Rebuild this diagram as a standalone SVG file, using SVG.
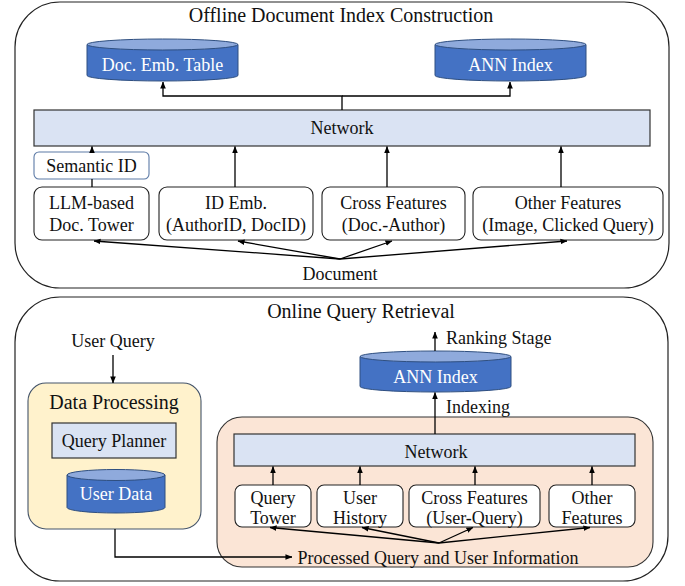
<svg xmlns="http://www.w3.org/2000/svg" width="685" height="586" viewBox="0 0 685 586">
<style>
text{font-family:"Liberation Serif","Times New Roman",serif;fill:#111;text-anchor:middle}
.t{font-size:20px}
.b{font-size:18px}
.w{fill:#fff;font-size:18px}
.cont{fill:#fff;stroke:#222;stroke-width:1.2}
.box{fill:#fff;stroke:#222;stroke-width:1.1}
.net{fill:#dae3f3;stroke:#333;stroke-width:1.2}
.cylb{fill:#4472c4;stroke:#2f4f80;stroke-width:1}
.cylt{fill:#8faadc;stroke:#2f4f80;stroke-width:1}
.ln{fill:none;stroke:#000;stroke-width:1.3}
</style>
<defs>
<marker id="a" viewBox="0 0 8 8" refX="7.5" refY="4" markerWidth="7" markerHeight="7" markerUnits="userSpaceOnUse" orient="auto">
<path d="M0,0.8 L8,4 L0,7.2 Z" fill="#000"/>
</marker>
</defs>

<g id="offline">
<rect class="cont" x="15" y="2" width="654" height="286" rx="45"/>
<text class="t" x="341" y="22">Offline Document Index Construction</text>
</g>
<g id="docemb">
<path class="cylb" d="M87,44.5 L87,75.5 A75.5,5.5 0 0 0 238,75.5 L238,44.5 Z"/>
<ellipse class="cylt" cx="162.5" cy="44.5" rx="75.5" ry="5.5"/>
<text class="w" x="162.5" y="71">Doc. Emb. Table</text>
</g>
<g id="annidx1">
<path class="cylb" d="M435,44.5 L435,75.5 A75.5,5.5 0 0 0 586,75.5 L586,44.5 Z"/>
<ellipse class="cylt" cx="510.5" cy="44.5" rx="75.5" ry="5.5"/>
<text class="w" x="510.5" y="71">ANN Index</text>
</g>
<g id="network1">
<rect class="net" x="34" y="110" width="616" height="36"/>
<text class="b" x="342" y="134">Network</text>
</g>
<g id="semid">
<rect x="34" y="152" width="115" height="27" rx="5" fill="#fff" stroke="#5c7aa6" stroke-width="1.1"/>
<text class="b" x="91.5" y="172">Semantic ID</text>
</g>
<g id="llm">
<rect class="box" x="34" y="187" width="115" height="53" rx="8"/>
<text class="b" x="91.5" y="209">LLM-based</text>
<text class="b" x="91.5" y="231">Doc. Tower</text>
</g>
<g id="idemb">
<rect class="box" x="159" y="187" width="154" height="53" rx="8"/>
<text class="b" x="236" y="209">ID Emb.</text>
<text class="b" x="236" y="231">(AuthorID, DocID)</text>
</g>
<g id="cross1">
<rect class="box" x="322" y="187" width="143" height="53" rx="8"/>
<text class="b" x="393.5" y="209">Cross Features</text>
<text class="b" x="393.5" y="231">(Doc.-Author)</text>
</g>
<g id="other1">
<rect class="box" x="473" y="187" width="190" height="53" rx="8"/>
<text class="b" x="568" y="209">Other Features</text>
<text class="b" x="568" y="231">(Image, Clicked Query)</text>
</g>
<g id="document">
<text class="b" x="340" y="280">Document</text>
</g>

<g id="online">
<rect class="cont" x="15" y="297" width="653" height="284" rx="45"/>
<text class="t" x="361" y="318">Online Query Retrieval</text>
</g>
<g id="userquery">
<text class="b" x="113" y="347">User Query</text>
</g>
<g id="dataproc">
<rect x="28" y="383" width="173" height="146" rx="18" fill="#fff2cc" stroke="#44546a" stroke-width="1.1"/>
<text class="t" x="114" y="409">Data Processing</text>
</g>
<g id="planner">
<rect class="net" x="52" y="423" width="124" height="35"/>
<text class="b" x="114" y="447">Query Planner</text>
</g>
<g id="userdata">
<path class="cylb" d="M67,475 L67,507.5 A49,5.5 0 0 0 165,507.5 L165,475 Z"/>
<ellipse class="cylt" cx="116" cy="475" rx="49" ry="5.5"/>
<text class="w" x="116" y="500">User Data</text>
</g>
<g id="encoder">
<rect x="217" y="417" width="436" height="150" rx="25" fill="#fbe5d6" stroke="#333" stroke-width="1.1"/>
</g>
<g id="network2">
<rect class="net" x="234" y="434" width="401" height="32"/>
<text class="b" x="436" y="458">Network</text>
</g>
<g id="qtower">
<rect class="box" x="235" y="485" width="76" height="42" rx="7"/>
<text class="b" x="273" y="504">Query</text>
<text class="b" x="273" y="524">Tower</text>
</g>
<g id="uhist">
<rect class="box" x="317" y="485" width="86" height="42" rx="7"/>
<text class="b" x="360" y="504">User</text>
<text class="b" x="360" y="524">History</text>
</g>
<g id="cross2">
<rect class="box" x="409" y="485" width="131" height="42" rx="7"/>
<text class="b" x="474.5" y="504">Cross Features</text>
<text class="b" x="474.5" y="524">(User-Query)</text>
</g>
<g id="other2">
<rect class="box" x="549" y="485" width="86" height="42" rx="7"/>
<text class="b" x="592" y="504">Other</text>
<text class="b" x="592" y="524">Features</text>
</g>
<g id="processed">
<text class="b" x="438" y="564">Processed Query and User Information</text>
</g>
<g id="annidx2">
<path class="cylb" d="M360,356.5 L360,386.5 A75.5,5.5 0 0 0 511,386.5 L511,356.5 Z"/>
<ellipse class="cylt" cx="435.5" cy="356.5" rx="75.5" ry="5.5"/>
<text class="w" x="435.5" y="383">ANN Index</text>
</g>
<g id="labels">
<text class="b" x="446" y="344" style="text-anchor:start">Ranking Stage</text>
<text class="b" x="446" y="413" style="text-anchor:start">Indexing</text>
</g>

<g id="connectors">
<path class="ln" d="M342,110 V96 H163 V82" marker-end="url(#a)"/>
<path class="ln" d="M342,96 H510 V82" marker-end="url(#a)"/>
<path class="ln" d="M92,152 V146.5" marker-end="url(#a)"/>
<path class="ln" d="M92,187 V179"/>
<path class="ln" d="M235,187 V146.5" marker-end="url(#a)"/>
<path class="ln" d="M387,187 V146.5" marker-end="url(#a)"/>
<path class="ln" d="M561,187 V146.5" marker-end="url(#a)"/>
<path class="ln" d="M340,259 L94,241" marker-end="url(#a)"/>
<path class="ln" d="M340,259 L238,241" marker-end="url(#a)"/>
<path class="ln" d="M340,259 L392,241" marker-end="url(#a)"/>
<path class="ln" d="M340,259 L567,241" marker-end="url(#a)"/>
<path class="ln" d="M113,355 V383" marker-end="url(#a)"/>
<path class="ln" d="M115,529 V557 H292" marker-end="url(#a)"/>
<path class="ln" d="M273,485 V466.5" marker-end="url(#a)"/>
<path class="ln" d="M360,485 V466.5" marker-end="url(#a)"/>
<path class="ln" d="M475,485 V466.5" marker-end="url(#a)"/>
<path class="ln" d="M592,485 V466.5" marker-end="url(#a)"/>
<path class="ln" d="M439,543 L270,527.5" marker-end="url(#a)"/>
<path class="ln" d="M439,543 L362,527.5" marker-end="url(#a)"/>
<path class="ln" d="M439,543 L473,527.5" marker-end="url(#a)"/>
<path class="ln" d="M439,543 L590,527.5" marker-end="url(#a)"/>
<path class="ln" d="M435,434 V392.5" marker-end="url(#a)"/>
<path class="ln" d="M435,351 V332" marker-end="url(#a)"/>
</g>
</svg>
